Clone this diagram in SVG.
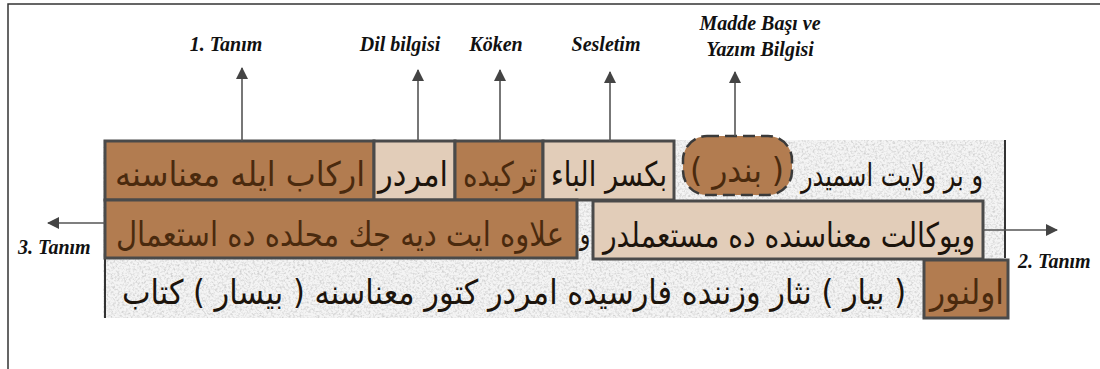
<svg xmlns="http://www.w3.org/2000/svg" width="1100" height="369" viewBox="0 0 1100 369">
  <defs>
    <style>
      .label { font-family: "Liberation Serif", "Times New Roman", serif; font-weight: bold; font-style: italic; font-size: 20px; fill: #111; }
      .ar { font-family: "DejaVu Sans", "Noto Sans", sans-serif; font-size: 26px; direction: rtl; unicode-bidi: embed; text-anchor: middle; }
      .ink { fill: #1c140c; }
      .ink-dark { fill: #4a2a0e; }
      .box-dark { fill: #b27c50; stroke: #4a4a4a; stroke-width: 3; }
      .box-light { fill: #e2cdb9; stroke: #4a4a4a; stroke-width: 3; }
      .link { stroke: #555; stroke-width: 1.6; fill: none; marker-end: url(#head); }
      .frame { stroke: #333; stroke-width: 1.5; fill: none; }
    </style>
    <marker id="head" viewBox="0 0 12 12" refX="11" refY="6" markerWidth="12" markerHeight="12" markerUnits="userSpaceOnUse" orient="auto">
      <path d="M0,0 L12,6 L0,12 Z" fill="#444"/>
    </marker>
    <filter id="grain" x="0" y="0" width="100%" height="100%">
      <feTurbulence type="fractalNoise" baseFrequency="0.45" numOctaves="3" seed="7" result="n"/>
      <feColorMatrix in="n" type="matrix" values="0 0 0 0 0.6  0 0 0 0 0.6  0 0 0 0 0.6  2.2 0 0 0 -0.95"/>
      <feComposite in2="SourceGraphic" operator="in"/>
    </filter>
  </defs>

  <rect width="1100" height="369" fill="#fff"/>
  <!-- page frame: top and left rule -->
  <path class="frame" d="M8,369 L8,4 L1100,4"/>

  <!-- scanned page strip; script lines are stretched vertically for the tall naskh look -->
  <g id="page">
    <rect x="103" y="140" width="902" height="178" fill="#f4f4f4"/>
    <rect x="103" y="140" width="902" height="178" fill="#fff" filter="url(#grain)"/>
    <line x1="105" y1="258" x2="105" y2="318" stroke="#333" stroke-width="2"/>
    <line x1="1005" y1="140" x2="1005" y2="258" stroke="#333" stroke-width="2"/>
    <text class="ar ink" x="892" y="0" transform="matrix(1 0 0 1.3 0 186)" style="font-size:24px" textLength="182" lengthAdjust="spacingAndGlyphs">و بر ولايت اسميدر</text>
    <text class="ar ink" x="585" y="0" transform="matrix(1 0 0 1.3 0 244)" style="font-size:22px">و</text>
    <text class="ar ink" x="514" y="0" transform="matrix(1 0 0 1.3 0 304)" textLength="784" lengthAdjust="spacingAndGlyphs">( بيار ) نثار وزننده فارسيده امردر كتور معناسنه ( بيسار ) كتاب</text>
  </g>

  <!-- row 1 -->
  <g id="tanim1">
    <rect class="box-dark" x="105" y="141" width="269" height="59"/>
    <text class="ar ink-dark" x="240" y="0" transform="matrix(1 0 0 1.3 0 186)" textLength="250" lengthAdjust="spacingAndGlyphs">اركاب ايله معناسنه</text>
  </g>
  <g id="dilbilgisi">
    <rect class="box-light" x="374" y="141" width="81" height="59"/>
    <text class="ar ink" x="413" y="0" transform="matrix(1 0 0 1.3 0 186)" textLength="70" lengthAdjust="spacingAndGlyphs">امردر</text>
  </g>
  <g id="koken">
    <rect class="box-dark" x="455" y="141" width="88" height="59"/>
    <text class="ar ink-dark" x="500" y="0" transform="matrix(1 0 0 1.3 0 186)" textLength="74" lengthAdjust="spacingAndGlyphs">تركبده</text>
  </g>
  <g id="sesletim">
    <rect class="box-light" x="543" y="141" width="131" height="59"/>
    <text class="ar ink" x="609" y="0" transform="matrix(1 0 0 1.3 0 186)" textLength="116" lengthAdjust="spacingAndGlyphs">بكسر الباء</text>
  </g>
  <g id="maddebasi">
    <rect x="683" y="136" width="109" height="59" rx="24" ry="24" fill="#b27c50" stroke="#3a3a3a" stroke-width="2.5" stroke-dasharray="12 6"/>
    <text class="ar ink-dark" x="737" y="0" transform="matrix(1 0 0 1.3 0 182)" textLength="94" lengthAdjust="spacingAndGlyphs">( بندر )</text>
  </g>

  <!-- row 2 -->
  <g id="tanim3">
    <rect class="box-dark" x="105" y="200" width="472" height="58"/>
    <text class="ar ink-dark" x="340" y="0" transform="matrix(1 0 0 1.3 0 246)" textLength="448" lengthAdjust="spacingAndGlyphs">علاوه ايت ديه جك محلده ده استعمال</text>
  </g>
  <g id="tanim2">
    <rect class="box-light" x="593" y="201" width="390" height="58"/>
    <text class="ar ink" x="789" y="0" transform="matrix(1 0 0 1.3 0 247)" textLength="372" lengthAdjust="spacingAndGlyphs">ويوكالت معناسنده ده مستعملدر</text>
  </g>

  <!-- row 3 -->
  <g id="olunur">
    <rect class="box-dark" x="924" y="260" width="84" height="58"/>
    <text class="ar ink-dark" x="967" y="0" transform="matrix(1 0 0 1.3 0 304)" textLength="74" lengthAdjust="spacingAndGlyphs">اولنور</text>
  </g>

  <!-- connectors -->
  <g id="connectors">
    <line class="link" x1="242" y1="141" x2="242" y2="68"/>
    <line class="link" x1="418" y1="141" x2="418" y2="70"/>
    <line class="link" x1="500" y1="141" x2="500" y2="70"/>
    <line class="link" x1="610" y1="141" x2="610" y2="72"/>
    <line class="link" x1="735" y1="136" x2="735" y2="72"/>
    <line class="link" x1="105" y1="223" x2="48" y2="223"/>
    <line class="link" x1="983" y1="230" x2="1057" y2="230"/>
  </g>

  <!-- labels -->
  <g id="labels">
    <text class="label" x="226" y="51" text-anchor="middle">1. Tanım</text>
    <text class="label" x="400" y="51" text-anchor="middle">Dil bilgisi</text>
    <text class="label" x="496" y="51" text-anchor="middle">Köken</text>
    <text class="label" x="606" y="51" text-anchor="middle">Sesletim</text>
    <text class="label" x="760" y="30" text-anchor="middle">Madde Başı ve</text>
    <text class="label" x="760" y="56" text-anchor="middle">Yazım Bilgisi</text>
    <text class="label" x="18" y="254">3. Tanım</text>
    <text class="label" x="1018" y="268">2. Tanım</text>
  </g>
</svg>
